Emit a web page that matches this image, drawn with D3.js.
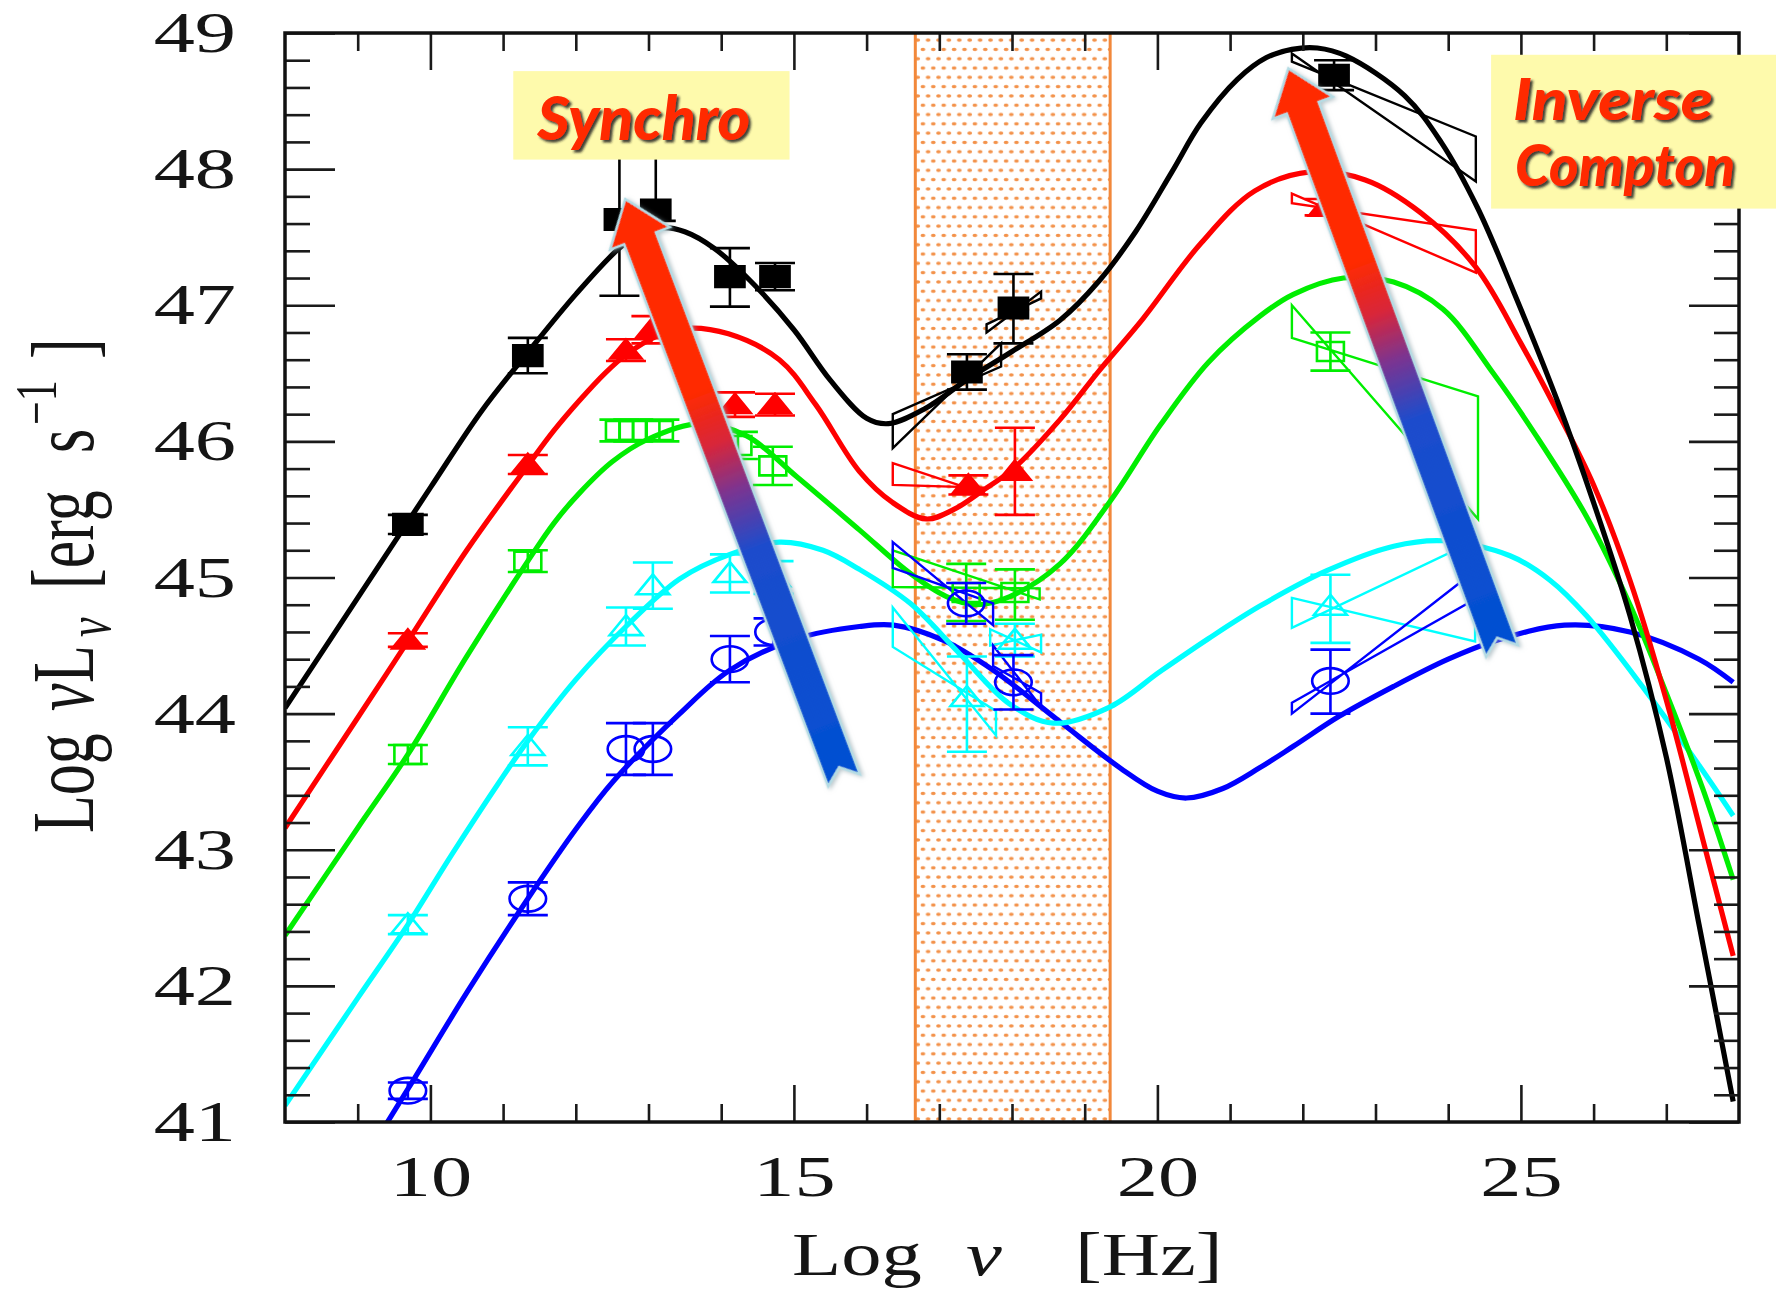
<!DOCTYPE html>
<html><head><meta charset="utf-8">
<script src="https://cdn.jsdelivr.net/npm/d3@7"></script>
<style>body{margin:0;background:#fff}svg{display:block}</style>
</head><body>
<script>
// ---------------- data ----------------
const xDomain = [8, 28];
const yDomain = [41, 49];
const xMajorTicks = [10, 15, 20, 25];
const xMinorTicks = [9, 11, 12, 13, 14, 16, 17, 18, 19, 21, 22, 23, 24, 26, 27];
const yMajorTicks = [41, 42, 43, 44, 45, 46, 47, 48, 49];
const xrayBand = [16.67, 19.35];

// model curves  [log nu, log nuLnu]
const curveBlack = [[8,44.04],[9,44.85],[10,45.66],[10.7,46.22],[11.35,46.66],[12,47.08],[12.6,47.42],[12.9,47.53],[13.2,47.57],[13.5,47.54],[13.9,47.42],[14.4,47.18],[15,46.82],[15.5,46.45],[16,46.17],[16.3,46.13],[16.8,46.24],[17.4,46.46],[18,46.66],[18.66,46.89],[19.2,47.18],[19.7,47.54],[20.2,47.98],[20.6,48.34],[21.1,48.66],[21.5,48.82],[21.85,48.88],[22.2,48.89],[22.6,48.83],[23.4,48.54],[23.9,48.2],[24.4,47.72],[24.9,47.1],[25.5,46.3],[26,45.55],[26.5,44.72],[27,43.68],[27.45,42.45],[27.65,41.9],[27.92,41.15]];
const curveRed = [[8,43.16],[9,43.97],[9.7,44.54],[10.5,45.2],[11.35,45.83],[11.7,46.08],[12.05,46.3],[12.4,46.5],[12.7,46.64],[13.1,46.77],[13.5,46.83],[14.1,46.79],[14.8,46.6],[15.3,46.27],[15.9,45.78],[16.36,45.55],[16.82,45.43],[17.2,45.5],[17.6,45.64],[18.02,45.8],[18.66,46.16],[19.2,46.52],[19.8,46.9],[20.59,47.45],[21.34,47.84],[22.1,47.98],[22.86,47.92],[23.62,47.68],[24.38,47.28],[25,46.72],[25.5,46.22],[26,45.68],[26.5,44.98],[27,44.1],[27.5,43.08],[27.92,42.22]];
const curveGreen = [[8,42.37],[9,43.16],[9.69,43.7],[10.5,44.42],[11.34,45.12],[11.7,45.4],[12.05,45.62],[12.5,45.85],[12.97,46.01],[13.7,46.13],[14.35,46.04],[15.04,45.74],[15.9,45.35],[16.6,45.03],[17.1,44.86],[17.5,44.8],[17.97,44.86],[18.66,45.1],[19.35,45.56],[20.04,46.12],[20.7,46.58],[21.41,46.92],[21.87,47.08],[22.56,47.2],[23.25,47.17],[23.93,46.97],[24.62,46.5],[25.2,46.05],[25.9,45.45],[26.5,44.8],[27,44.15],[27.5,43.45],[27.92,42.78]];
const curveCyan = [[8,41.12],[9,41.91],[9.69,42.45],[10.3,42.97],[10.95,43.5],[11.34,43.8],[12,44.25],[12.69,44.64],[13.43,44.99],[14.12,45.17],[14.8,45.26],[15.4,45.2],[15.9,45.06],[16.6,44.81],[17.28,44.44],[17.97,44.07],[18.57,43.93],[19.35,44.05],[20.04,44.31],[20.7,44.55],[21.41,44.79],[22.33,45.05],[23.25,45.23],[23.93,45.27],[24.85,45.16],[25.4,44.98],[25.9,44.72],[26.67,44.2],[27.45,43.62],[27.92,43.25]];
const curveBlue = [[9,40.65],[9.7,41.25],[10.5,41.95],[11.34,42.64],[12,43.15],[12.51,43.5],[13.43,44.0],[14.12,44.32],[15.04,44.55],[15.9,44.64],[16.37,44.65],[17.05,44.54],[17.74,44.32],[18.66,43.94],[19.49,43.6],[20.0,43.43],[20.4,43.38],[20.9,43.45],[21.4,43.6],[21.87,43.76],[22.5,43.98],[23.25,44.2],[24.0,44.4],[24.62,44.53],[25.6,44.65],[26.5,44.6],[27.45,44.4],[27.92,44.23]];

// data points [x, y, errLow, errHigh]
const ptsBlack = [[9.69,45.39,0.07,0.07],[11.34,46.63,0.13,0.13],[12.6,47.63,0.56,0.52],[13.1,47.7,0.08,0.45],[14.12,47.21,0.22,0.21],[14.74,47.21,0.1,0.1],[17.38,46.51,0.13,0.13],[18.02,46.98,0.26,0.25],[22.43,48.69,0.11,0.11]];
const ptsRed = [[9.69,44.54,0.05,0.05],[11.34,45.83,0.07,0.07],[12.69,46.67,0.08,0.08],[13.04,46.82,0.1,0.1],[14.19,46.27,0.09,0.09],[14.74,46.27,0.08,0.08],[17.4,45.68,0.07,0.07],[18.04,45.78,0.32,0.32],[22.3,47.72,0.06,0.06]];
const ptsGreen = [[9.69,43.7,0.07,0.07],[11.34,45.12,0.08,0.08],[12.6,46.08,0.08,0.08],[12.79,46.08,0.08,0.08],[13.15,46.08,0.08,0.08],[14.23,45.97,0.1,0.1],[14.71,45.82,0.14,0.14],[17.37,44.89,0.21,0.21],[18.04,44.89,0.2,0.17],[22.38,46.66,0.14,0.14]];
const ptsCyan = [[9.69,42.45,0.07,0.07],[11.34,43.76,0.14,0.14],[12.69,44.64,0.14,0.14],[13.06,44.94,0.17,0.17],[14.12,45.03,0.14,0.14],[14.72,45.0,0.12,0.12],[17.38,44.12,0.4,0.3],[18.04,44.54,0.12,0.12],[22.38,44.79,0.27,0.23]];
const ptsBlue = [[9.69,41.23,0.06,0.06],[11.34,42.64,0.12,0.12],[12.69,43.74,0.19,0.19],[13.06,43.74,0.19,0.19],[14.12,44.4,0.17,0.17],[14.72,44.6,0.1,0.1],[17.37,44.81,0.15,0.15],[18.02,44.23,0.2,0.2],[22.38,44.24,0.24,0.23]];

// bow-ties [x0, x1, lineA_y0, lineA_y1, lineB_y0, lineB_y1]
const bowBlack = [[16.36,17.85,46.2,46.55,45.95,46.72],[17.65,18.4,46.8,47.1,46.86,47.05],[21.85,24.38,48.85,47.91,48.79,48.24]];
const bowRed = [[16.36,17.6,45.84,45.62,45.68,45.66],[21.85,24.38,47.82,47.24,47.75,47.55]];
const bowGreen = [[16.36,18.38,45.2,44.84,44.93,44.92],[21.85,24.41,47.0,45.43,46.76,46.33]];
const bowCyan = [[16.36,17.78,44.78,43.84,44.49,44.02],[17.7,18.4,44.62,44.45,44.5,44.58],[21.85,24.37,44.85,44.53,44.63,45.27]];
const bowBlue = [[16.36,17.74,45.26,44.65,45.07,44.81],[17.74,18.4,44.5,44.05,44.35,44.15],[21.85,24.3,44.08,44.82,44.0,45.02]];

// annotations (data coordinates): [tip, tail]
const arrowSynchro = [[12.68,47.78],[15.69,43.51]];
const arrowIC = [[21.8,48.74],[24.74,44.46]];
const boxSynchro = [[11.14,48.72],[14.94,48.07]];
const boxIC = [[24.59,48.84],[28.51,47.71]];
const textSynchro = ["Synchro"];
const textIC = ["Inverse","Compton"];

// ---------------- drawing ----------------
const W = 1776, H = 1294;
const L = 285, R = 1739, T = 33, B = 1122;
const x = d3.scaleLinear().domain(xDomain).range([L, R]);
const y = d3.scaleLinear().domain(yDomain).range([B, T]);
const SX = 1.42; // horizontal stretch of the original figure

const svg = d3.select("body").append("svg").attr("width", W).attr("height", H)
  .style("background", "#fff");
const defs = svg.append("defs");
defs.append("clipPath").attr("id", "plotclip").append("rect")
  .attr("x", L).attr("y", T).attr("width", R - L).attr("height", B - T);

const pat = defs.append("pattern").attr("id", "dots").attr("patternUnits", "userSpaceOnUse")
  .attr("width", 10.4).attr("height", 18.6);
pat.append("ellipse").attr("cx", 2.5).attr("cy", 3).attr("rx", 2.4).attr("ry", 1.7).attr("fill", "#f3924a");
pat.append("ellipse").attr("cx", 7.7).attr("cy", 12.3).attr("rx", 2.4).attr("ry", 1.7).attr("fill", "#f3924a");

const grad = defs.append("linearGradient").attr("id", "arrowgrad")
  .attr("x1", 0).attr("y1", 0).attr("x2", 0).attr("y2", 1);
[[0, "#ff2a00"], [0.33, "#ff2a00"], [0.42, "#d8263a"], [0.5, "#7c3490"], [0.6, "#1d4ccc"], [1, "#0050d2"]]
  .forEach(s => grad.append("stop").attr("offset", s[0]).attr("stop-color", s[1]));

const tsh = defs.append("filter").attr("id", "tshadow").attr("x", "-10%").attr("y", "-20%").attr("width", "130%").attr("height", "160%");
tsh.append("feDropShadow").attr("dx", 2.5).attr("dy", 2.5).attr("stdDeviation", 1.2)
  .attr("flood-color", "#1a1a1a").attr("flood-opacity", 0.85);
const ash = defs.append("filter").attr("id", "ashadow").attr("x", "-20%").attr("y", "-5%").attr("width", "140%").attr("height", "110%");
ash.append("feDropShadow").attr("dx", 1.5).attr("dy", 2).attr("stdDeviation", 2)
  .attr("flood-color", "#8aa0a8").attr("flood-opacity", 0.6);

// x-ray band
const band = svg.append("g");
band.append("rect").attr("x", x(xrayBand[0])).attr("y", T).attr("width", x(xrayBand[1]) - x(xrayBand[0]))
  .attr("height", B - T).attr("fill", "url(#dots)");
xrayBand.forEach(v => band.append("line").attr("x1", x(v)).attr("x2", x(v)).attr("y1", T).attr("y2", B)
  .attr("stroke", "#f2883a").attr("stroke-width", 3));

const series = [
  {curve: curveBlack, pts: ptsBlack, bows: bowBlack, color: "#000000", type: d3.symbolSquare, size: 420, filled: true},
  {curve: curveRed, pts: ptsRed, bows: bowRed, color: "#ff0000", type: d3.symbolTriangle, size: 210, filled: true},
  {curve: curveGreen, pts: ptsGreen, bows: bowGreen, color: "#00ee00", type: d3.symbolSquare, size: 360, filled: false},
  {curve: curveCyan, pts: ptsCyan, bows: bowCyan, color: "#00ffff", type: d3.symbolTriangle, size: 230, filled: false},
  {curve: curveBlue, pts: ptsBlue, bows: bowBlue, color: "#0000ff", type: d3.symbolCircle, size: 520, filled: false}
];

const plot = svg.append("g").attr("clip-path", "url(#plotclip)");
const line = d3.line().x(d => x(d[0])).y(d => y(d[1])).curve(d3.curveCatmullRom.alpha(0.5));

// curves (blue first so black lies on top like the original)
series.slice().reverse().forEach(s => {
  plot.append("path").datum(s.curve).attr("d", line).attr("fill", "none")
    .attr("stroke", s.color).attr("stroke-width", 5.2).attr("stroke-linejoin", "round");
});

// bow-ties
series.forEach(s => {
  plot.selectAll(null).data(s.bows).enter().append("path")
    .attr("d", b => `M${x(b[0])},${y(b[2])}L${x(b[1])},${y(b[3])}L${x(b[1])},${y(b[5])}L${x(b[0])},${y(b[4])}Z`)
    .attr("fill", "none").attr("stroke", s.color).attr("stroke-width", 2.4);
});

// error bars and markers
series.forEach(s => {
  const g = plot.append("g").attr("stroke", s.color).attr("stroke-width", 2.6);
  s.pts.forEach(p => {
    const px = x(p[0]), y0 = y(p[1] - p[2]), y1 = y(p[1] + p[3]);
    g.append("line").attr("x1", px).attr("x2", px).attr("y1", y0).attr("y2", y1);
    g.append("line").attr("x1", px - 20).attr("x2", px + 20).attr("y1", y0).attr("y2", y0);
    g.append("line").attr("x1", px - 20).attr("x2", px + 20).attr("y1", y1).attr("y2", y1);
  });
  plot.selectAll(null).data(s.pts).enter().append("path")
    .attr("d", d3.symbol().type(s.type).size(s.size))
    .attr("transform", p => `translate(${x(p[0])},${y(p[1]) + (s.type === d3.symbolTriangle ? 2 : 0)}) scale(${SX},1)`)
    .attr("fill", s.filled ? s.color : "none")
    .attr("stroke", s.color).attr("stroke-width", 2.6).attr("vector-effect", "non-scaling-stroke");
});

// axes
const FONT = "'Liberation Serif', 'DejaVu Serif', serif";
function styleAxis(g) {
  g.select(".domain").remove();
  g.selectAll(".tick line").attr("stroke", "#1a1a1a").attr("stroke-width", 2.6);
  g.attr("font-family", FONT).attr("font-size", 58);
}
const none = () => "";
svg.append("g").attr("transform", `translate(0,${B})`)
  .call(d3.axisBottom(x).tickValues(xMinorTicks).tickSizeInner(-18).tickSizeOuter(0).tickFormat(none)).call(styleAxis);
const gxb = svg.append("g").attr("transform", `translate(0,${B})`)
  .call(d3.axisBottom(x).tickValues(xMajorTicks).tickSizeInner(-37).tickSizeOuter(0).tickPadding(0).tickFormat(d3.format("d")))
  .call(styleAxis);
gxb.selectAll(".tick text").attr("y", 0).attr("fill", "#151515")
  .attr("transform", `translate(0,33) scale(${SX},1)`);
svg.append("g").attr("transform", `translate(0,${T})`)
  .call(d3.axisTop(x).tickValues(xMinorTicks).tickSizeInner(-18).tickSizeOuter(0).tickFormat(none)).call(styleAxis);
svg.append("g").attr("transform", `translate(0,${T})`)
  .call(d3.axisTop(x).tickValues(xMajorTicks).tickSizeInner(-37).tickSizeOuter(0).tickFormat(none)).call(styleAxis);

const yMinor = d3.range(41, 49.001, 0.2).filter(v => Math.abs(v - Math.round(v)) > 0.01);
svg.append("g").attr("transform", `translate(${L},0)`)
  .call(d3.axisLeft(y).tickValues(yMinor).tickSizeInner(-25).tickSizeOuter(0).tickFormat(none)).call(styleAxis);
const gyl = svg.append("g").attr("transform", `translate(${L},0)`)
  .call(d3.axisLeft(y).tickValues(yMajorTicks).tickSizeInner(-50).tickSizeOuter(0).tickPadding(0).tickFormat(d3.format("d")))
  .call(styleAxis);
gyl.selectAll(".tick text").attr("x", 0).attr("fill", "#151515")
  .attr("transform", `translate(-49,0) scale(${SX},1)`);
svg.append("g").attr("transform", `translate(${R},0)`)
  .call(d3.axisRight(y).tickValues(yMinor).tickSizeInner(-25).tickSizeOuter(0).tickFormat(none)).call(styleAxis);
svg.append("g").attr("transform", `translate(${R},0)`)
  .call(d3.axisRight(y).tickValues(yMajorTicks).tickSizeInner(-50).tickSizeOuter(0).tickFormat(none)).call(styleAxis);

svg.append("rect").attr("x", L).attr("y", T).attr("width", R - L).attr("height", B - T)
  .attr("fill", "none").attr("stroke", "#111").attr("stroke-width", 3.5);

// axis titles
const xt = svg.append("g").attr("font-family", FONT).attr("font-size", 62).attr("fill", "#151515");
[["Log", 792, "normal"], ["ν", 966, "italic"], ["[Hz]", 1075, "normal"]].forEach(t => {
  xt.append("text").attr("transform", `translate(${t[1]},1275) scale(1.3,1)`).attr("font-style", t[2]).text(t[0]);
});
const yt = svg.append("g").attr("font-family", FONT).attr("fill", "#151515")
  .attr("transform", `translate(93,833) scale(${SX},1) rotate(-90)`);
[["Log", 0, 0, 62, "normal"], ["ν", 122, 0, 62, "italic"], ["L", 150, 0, 62, "normal"], ["ν", 196, 12, 44, "italic"],
 ["[erg", 244, 0, 62, "normal"], ["s", 380, 0, 62, "normal"], ["−1", 408, -26, 42, "normal"], ["]", 474, 0, 62, "normal"]]
  .forEach(t => yt.append("text").attr("x", t[1]).attr("y", t[2]).attr("font-size", t[3]).attr("font-style", t[4]).text(t[0]));

// arrows
function drawArrow(a) {
  const tip = [x(a[0][0]), y(a[0][1])], tail = [x(a[1][0]), y(a[1][1])];
  const dx = tail[0] - tip[0], dy = tail[1] - tip[1];
  const len = Math.hypot(dx, dy);
  const ang = Math.atan2(-dx, dy) * 180 / Math.PI;
  const hw = 32, hl = 42, sw = 17, notch = 14;
  const p = `M0,0L${hw},${hl}L${sw},${hl}L${sw},${len}L0,${len - notch}L${-sw},${len}L${-sw},${hl}L${-hw},${hl}Z`;
  svg.append("path").attr("d", p).attr("transform", `translate(${tip[0]},${tip[1]}) rotate(${ang})`)
    .attr("fill", "url(#arrowgrad)").attr("stroke", "#b4dbe4").attr("stroke-width", 2.5)
    .attr("stroke-linejoin", "miter").attr("filter", "url(#ashadow)");
}
drawArrow(arrowSynchro);
drawArrow(arrowIC);

// label boxes
const LFONT = "'Lato', 'Open Sans', sans-serif";
function drawBox(b, lines, specs) {
  const x0 = x(b[0][0]), y0 = y(b[0][1]), x1 = x(b[1][0]), y1 = y(b[1][1]);
  svg.append("rect").attr("x", x0).attr("y", y0).attr("width", x1 - x0).attr("height", y1 - y0).attr("fill", "#fefaac");
  lines.forEach((t, i) => {
    svg.append("text").attr("x", x0 + specs[i][0]).attr("y", y0 + specs[i][1])
      .attr("font-family", LFONT).attr("font-weight", 900).attr("font-style", "italic")
      .attr("font-size", specs[i][3]).attr("fill", "#ff2a00")
      .attr("textLength", specs[i][2]).attr("lengthAdjust", "spacingAndGlyphs")
      .attr("filter", "url(#tshadow)").text(t);
  });
}
drawBox(boxSynchro, textSynchro, [[24, 69, 213, 60]]);
drawBox(boxIC, textIC, [[22, 65, 200, 57], [24, 131, 220, 57]]);
</script>
</body></html>
